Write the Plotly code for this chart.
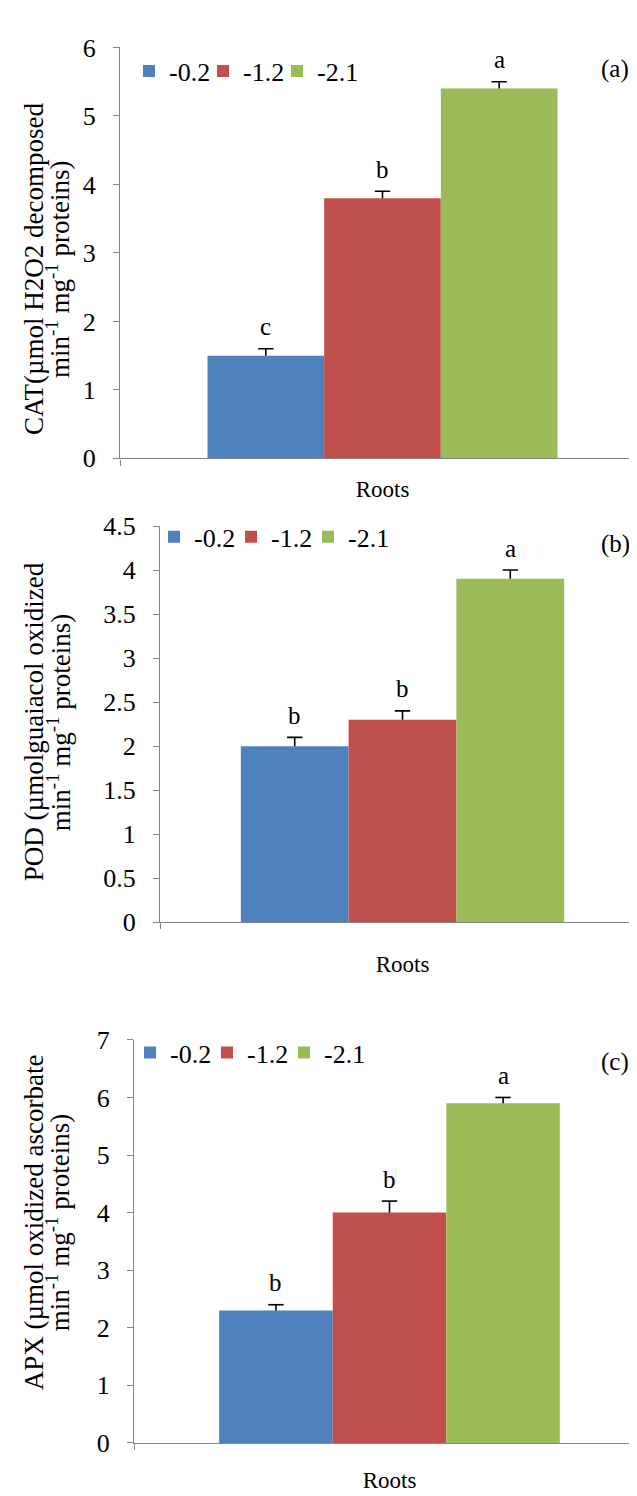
import plotly.graph_objects as go

W, H = 637, 1496

# ---------------- data ----------------
category = ["Roots"]
groups = ["-0.2", "-1.2", "-2.1"]
colors = ["#4F81BD", "#C0504D", "#9BBB59"]

cat_vals = [1.5, 3.8, 5.4]
cat_err = [0.1, 0.1, 0.1]
cat_letters = ["c", "b", "a"]

pod_vals = [2.0, 2.3, 3.9]
pod_err = [0.1, 0.1, 0.1]
pod_letters = ["b", "b", "a"]

apx_vals = [2.3, 4.0, 5.9]
apx_err = [0.1, 0.2, 0.1]
apx_letters = ["b", "b", "a"]

panel_tags = ["(a)", "(b)", "(c)"]
y_title_line1 = [
    "CAT(µmol H2O2 decomposed",
    "POD (µmolguaiacol oxidized",
    "APX (µmol oxidized ascorbate",
]
y_title_line2 = [
    "min<sup>-1</sup> mg<sup>-1</sup> proteins)",
    "min<sup>-1</sup> mg<sup>-1</sup> proteins)",
    "min<sup>-1</sup> mg<sup>-1</sup> proteins)",
]
y_ranges = [[0, 6], [0, 4.5], [0, 7]]
y_dticks = [1, 0.5, 1]

# ---------------- layout geometry (pixels) ----------------
FONT = "Liberation Serif"
AXC = "#868686"
BARGAP = 1 / 3

panels = [
    dict(vals=cat_vals, err=cat_err, letters=cat_letters, x0=112, x1=637, ytop=26, ybot=445,
         t1x=26, t2x=50, tcy=252, leg=(121, 50), legstep=74, tag=(607, 48), xstand=10),
    dict(vals=pod_vals, err=pod_err, letters=pod_letters, x0=152, x1=637, ytop=514, ybot=918,
         t1x=26, t2x=51, tcy=714, leg=(146, 525), legstep=77, tag=(607, 532), xstand=21),
    dict(vals=apx_vals, err=apx_err, letters=apx_letters, x0=126, x1=637, ytop=1038, ybot=1449,
         t1x=26, t2x=50, tcy=1224, leg=(122, 1051), legstep=77, tag=(607, 1061), xstand=16),
]


def px(x):
    return x / W


def py(y):
    return 1 - y / H


fig = go.Figure()
annotations = []
layout = dict(
    width=W, height=H,
    margin=dict(l=0, r=0, t=0, b=0),
    paper_bgcolor="white", plot_bgcolor="white",
    barmode="group", bargap=BARGAP, bargroupgap=0,
    scattermode="group", scattergap=BARGAP,
    font=dict(family=FONT, size=24, color="black"),
)

n = len(groups)
bw = (1 - BARGAP) / n
leg_count = 0

for k, p in enumerate(panels):
    sfx = "" if k == 0 else str(k + 1)
    xa, ya = "x" + sfx, "y" + sfx
    for i, g in enumerate(groups):
        leg_count += 1
        leg = "legend" if leg_count == 1 else "legend" + str(leg_count)
        fig.add_trace(go.Bar(
            x=category, y=[p["vals"][i]], name=g,
            marker=dict(color=colors[i], line=dict(width=0)),
            xaxis=xa, yaxis=ya, legend=leg, offsetgroup=str(i),
            hoverinfo="skip",
        ))
        layout[leg] = dict(
            x=px(p["leg"][0] + i * p["legstep"]), y=py(p["leg"][1]),
            xanchor="left", yanchor="middle",
            orientation="h", bgcolor="rgba(0,0,0,0)", borderwidth=0,
            font=dict(family=FONT, size=26, color="black"),
        )
    # error bars: stem from bar top up, cap only at top (Excel "plus" style)
    for i, g in enumerate(groups):
        top = p["vals"][i] + p["err"][i]
        fig.add_trace(go.Scatter(
            x=category, y=[top], mode="markers", showlegend=False,
            marker=dict(symbol="line-ew", size=11, color="black",
                        line=dict(color="black", width=1.6)),
            error_y=dict(type="data", symmetric=False, array=[0], arrayminus=[p["err"][i]],
                         color="black", thickness=1.6, width=0),
            xaxis=xa, yaxis=ya, offsetgroup=str(i), hoverinfo="skip",
        ))
        annotations.append(dict(
            x=(i - (n - 1) / 2) * bw, y=top, xref=xa, yref=ya,
            text=p["letters"][i], showarrow=False, yanchor="middle", yshift=22,
            font=dict(family=FONT, size=25, color="black"),
        ))
    layout["xaxis" + sfx] = dict(
        domain=[px(p["x0"]), px(p["x1"])], anchor=ya, type="category",
        range=[-0.5, 0.5], showline=True, linecolor=AXC, linewidth=1.3,
        ticks="outside", tickson="boundaries", ticklen=6, tickcolor=AXC,
        showgrid=False, zeroline=False, ticklabelstandoff=p["xstand"],
        tickfont=dict(family=FONT, size=23, color="black"),
    )
    layout["yaxis" + sfx] = dict(
        domain=[py(p["ybot"]), py(p["ytop"])], anchor=xa,
        range=y_ranges[k], dtick=y_dticks[k], tick0=0,
        showline=True, linecolor=AXC, linewidth=1.3,
        ticks="outside", ticklen=6, tickcolor=AXC,
        showgrid=False, zeroline=False, ticklabelstandoff=12,
        tickfont=dict(family=FONT, size=26, color="black"),
    )
    for tx, txt in ((p["t1x"], y_title_line1[k]), (p["t2x"], y_title_line2[k])):
        annotations.append(dict(
            x=px(tx), y=py(p["tcy"]), xref="paper", yref="paper",
            text=txt, textangle=-90, showarrow=False,
            xanchor="center", yanchor="middle",
            font=dict(family=FONT, size=27, color="black"),
        ))
    annotations.append(dict(
        x=px(p["tag"][0]), y=py(p["tag"][1]), xref="paper", yref="paper",
        text=panel_tags[k], showarrow=False, xanchor="center", yanchor="middle",
        font=dict(family=FONT, size=25, color="black"),
    ))

layout["annotations"] = annotations
fig.update_layout(**layout)
fig.write_html("out.html")
